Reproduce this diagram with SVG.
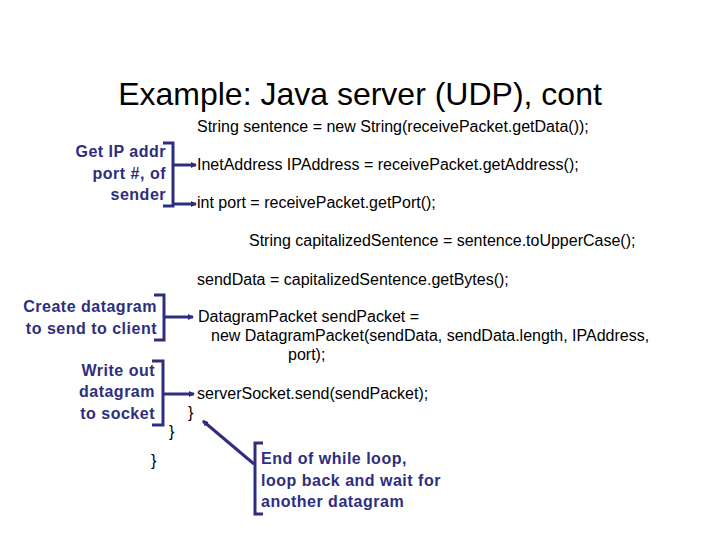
<svg xmlns="http://www.w3.org/2000/svg" width="720" height="540" viewBox="0 0 720 540">
<defs>
<style>
.code{font-family:"Liberation Sans",Arial,sans-serif;font-size:16px;fill:#000}
.note{font-family:"Liberation Sans",Arial,sans-serif;font-size:16px;font-weight:bold;letter-spacing:0.5px;fill:#2e2e7e}
.br{fill:none;stroke:#2e2e7e;stroke-width:3}
.ar{fill:none;stroke:#2e2e7e;stroke-width:3;marker-end:url(#ah)}
</style>
<marker id="ah" markerWidth="6" markerHeight="6" refX="5" refY="3" orient="auto" markerUnits="userSpaceOnUse"><path d="M0,0L6,3L0,6z" fill="#2e2e7e"/></marker>
</defs>
<rect width="720" height="540" fill="#fff"/>
<text x="360" y="105" text-anchor="middle" font-family="Liberation Sans,Arial,sans-serif" font-size="32">Example: Java server (UDP), cont</text>
<g id="code" class="code">
<text x="197" y="132">String sentence = new String(receivePacket.getData());</text>
<text x="197" y="170">InetAddress IPAddress = receivePacket.getAddress();</text>
<text x="197" y="208">int port = receivePacket.getPort();</text>
<text x="249" y="246">String capitalizedSentence = sentence.toUpperCase();</text>
<text x="197" y="285">sendData = capitalizedSentence.getBytes();</text>
<text x="198" y="322">DatagramPacket sendPacket =</text>
<text x="211" y="341">new DatagramPacket(sendData, sendData.length, IPAddress,</text>
<text x="288" y="360">port);</text>
<text x="197" y="399">serverSocket.send(sendPacket);</text>
<text x="188" y="418">}</text>
<text x="169" y="437">}</text>
<text x="151" y="466">}</text>
</g>
<g id="n1"><text class="note" text-anchor="end" x="166" y="157">Get IP addr</text><text class="note" text-anchor="end" x="166" y="179">port #, of</text><text class="note" text-anchor="end" x="166" y="200">sender</text><path class="br" d="M163,143H173V206H163"/></g>
<g id="n2"><text class="note" text-anchor="end" x="157" y="312">Create datagram</text><text class="note" text-anchor="end" x="157" y="334">to send to client</text><path class="br" d="M154,295H164V340H154"/></g>
<g id="n3"><text class="note" text-anchor="end" x="155" y="376">Write out</text><text class="note" text-anchor="end" x="155" y="397">datagram</text><text class="note" text-anchor="end" x="155" y="419">to socket</text><path class="br" d="M152,361H163V425H152"/></g>
<g id="n4"><text class="note" x="261" y="464">End of while loop,</text><text class="note" x="261" y="486">loop back and wait for</text><text class="note" x="261" y="507">another datagram</text><path class="br" d="M263,443H255V514H263"/></g>
<g id="connectors">
<path class="ar" d="M173,165H196"/>
<path class="ar" d="M173,204H196"/>
<path class="ar" d="M164,317H193"/>
<path class="ar" d="M163,394H194"/>
<path class="ar" d="M254,464L203,421"/>
</g>
</svg>
